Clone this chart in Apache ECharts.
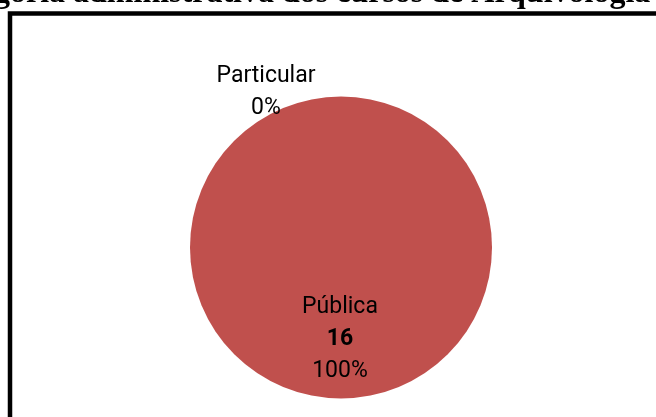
<!DOCTYPE html>
<html>
<head>
<meta charset="utf-8">
<script src="https://cdn.jsdelivr.net/npm/echarts@6/dist/echarts.min.js"></script>
<style>
html,body{margin:0;padding:0;background:#fff;}
#chart{width:656px;height:417px;}
</style>
</head>
<body>
<div id="chart"></div>
<script>
const titleText = 'Categoria administrativa dos cursos de Arquivologia';
const categories = ['Pública', 'Particular'];
const values = [16, 0];

const chart = echarts.init(document.getElementById('chart'), null, {renderer: 'canvas'});

const labelFont = {fontFamily: 'Roboto', fontSize: 23, lineHeight: 32, color: '#000'};

const data = categories.map(function (name, i) {
  const item = {name: name, value: values[i]};
  if (i === 0) {
    item.label = {
      position: 'inside',
      offset: [-1, 13],
      formatter: '{n|{b}}\n{v|{c}}\n{p|{d}%}'
    };
  } else {
    item.label = {
      position: 'inside',
      offset: [-75, -77],
      formatter: '{n|{b}}\n{p|{d}%}'
    };
  }
  return item;
});

chart.setOption({
  animation: false,
  backgroundColor: '#fff',
  title: {
    text: titleText,
    left: -70,
    top: -22,
    padding: 0,
    textStyle: {fontFamily: 'Liberation Serif', fontSize: 32, fontWeight: 'bold', color: '#000'}
  },
  graphic: [{
    type: 'rect',
    shape: {x: 10, y: 13.5, width: 720, height: 460},
    style: {fill: 'none', stroke: '#000', lineWidth: 4.5},
    z: 0,
    silent: true
  }],
  series: [{
    type: 'pie',
    center: [341, 247.5],
    radius: [0, 151],
    startAngle: 90,
    clockwise: true,
    avoidLabelOverlap: false,
    silent: true,
    color: ['#C0504D', '#4F81BD'],
    itemStyle: {borderWidth: 0},
    labelLine: {show: false},
    label: {
      show: true,
      rich: {
        n: Object.assign({}, labelFont),
        v: Object.assign({}, labelFont, {fontWeight: 'bold'}),
        p: Object.assign({}, labelFont)
      }
    },
    emphasis: {disabled: true},
    data: data
  }]
});
</script>
</body>
</html>
